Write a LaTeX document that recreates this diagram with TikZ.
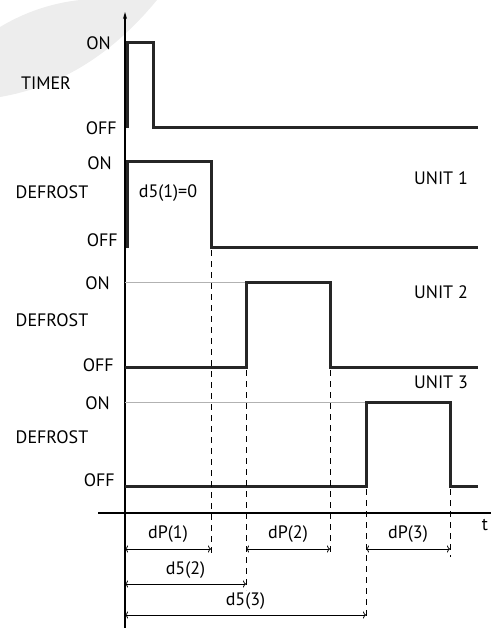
\documentclass[tikz,border=0pt]{standalone}
\usepackage{fontspec}
\setmainfont{PT Sans}
\usetikzlibrary{arrows.meta}

\tikzset{
  signal/.style={line width=3pt, draw=black!85},
  onlevel/.style={line width=0.5pt, draw=black!30},
  guide/.style={line width=1pt, dashed, dash pattern=on 6pt off 5pt},
  dim/.style={line width=0.8pt, <->},
  lvl/.style={anchor=east, inner sep=0pt},
}

\begin{document}
\begin{tikzpicture}[x=1pt, y=-1pt, >={To[length=3pt,width=7pt]}, font=\fontsize{18}{21}\selectfont]
    \useasboundingbox (0,0) rectangle (491,628);

    % Watermark
    \fill[black!7] (0,27) .. controls (25,12) and (52,3) .. (80,0) -- (157,0)
        .. controls (120,45) and (70,85) .. (0,97) -- cycle;

    % Axes
    \coordinate (ybot) at (125,628);
    \coordinate (ytop) at (125,12);
    \draw[line width=1.3pt, -{Stealth[length=7pt,width=4pt]}] (ybot) -- (ytop);
    \coordinate (tleft) at (98,513);
    \coordinate (tright) at (491,513);
    \draw[line width=1.3pt] (tleft) -- (tright);
    \node (t) at (485,525) {t};

    % Timer
    \draw[signal] (127,128) -- (127,43) -- (153,43) -- (153,128) -- (478,128);
    \node[lvl] (ton) at (111,43) {ON};
    \node[lvl] (toff) at (117,128) {OFF};
    \node (timer) at (46,83) {TIMER};

    % Unit 1
    \draw[signal] (127,248) -- (127,162) -- (211,162) -- (211,247) -- (478,247);
    \node[lvl] (on1) at (112,163) {ON};
    \node[lvl] (off1) at (118,240) {OFF};
    \node (def1) at (52,192) {DEFROST};
    \node (dzero) at (168,193) {d5(1)=0};
    \node (unit1) at (441,178) {UNIT 1};

    % Unit 2
    \draw[onlevel] (125,282) -- (246,282);
    \draw[signal] (125,367) -- (246,367) -- (246,282) -- (330,282) -- (330,367) -- (478,367);
    \node[lvl] (on2) at (110,283) {ON};
    \node[lvl] (off2) at (114,365) {OFF};
    \node (def2) at (52,320) {DEFROST};
    \node (unit2) at (441,292) {UNIT 2};

    % Unit 3
    \draw[onlevel] (125,402) -- (366,402);
    \draw[signal] (125,486) -- (366,486) -- (366,402) -- (450,402) -- (450,486) -- (478,486);
    \node[lvl] (on3) at (110,403) {ON};
    \node[lvl] (off3) at (115,480) {OFF};
    \node (def3) at (52,437) {DEFROST};
    \node (unit3) at (441,382) {UNIT 3};

    % Guide lines
    \coordinate (g1) at (211,555);
    \coordinate (g2) at (246,590);
    \coordinate (g3) at (330,552);
    \coordinate (g4) at (366,618);
    \coordinate (g5) at (450,557);
    \draw[guide] (211,250) -- (g1);
    \draw[guide] (246,370) -- (g2);
    \draw[guide] (330,370) -- (g3);
    \draw[guide] (366,489) -- (g4);
    \draw[guide] (450,489) -- (g5);

    % Durations
    \draw[dim] (125,549) -- (g1 |- 0,549) node[midway, above=3pt] (dp1) {dP(1)};
    \draw[dim] (g2 |- 0,549) -- (g3 |- 0,549) node[midway, above=3pt] (dp2) {dP(2)};
    \draw[dim] (g4 |- 0,549) -- (g5 |- 0,549) node[midway, above=3pt] (dp3) {dP(3)};
    \draw[dim] (125,584) -- (g2 |- 0,584) node[midway, above=2pt] (dfive2) {d5(2)};
    \draw[dim] (125,615) -- (g4 |- 0,615) node[midway, above=2pt] (dfive3) {d5(3)};
\end{tikzpicture}
\end{document}
